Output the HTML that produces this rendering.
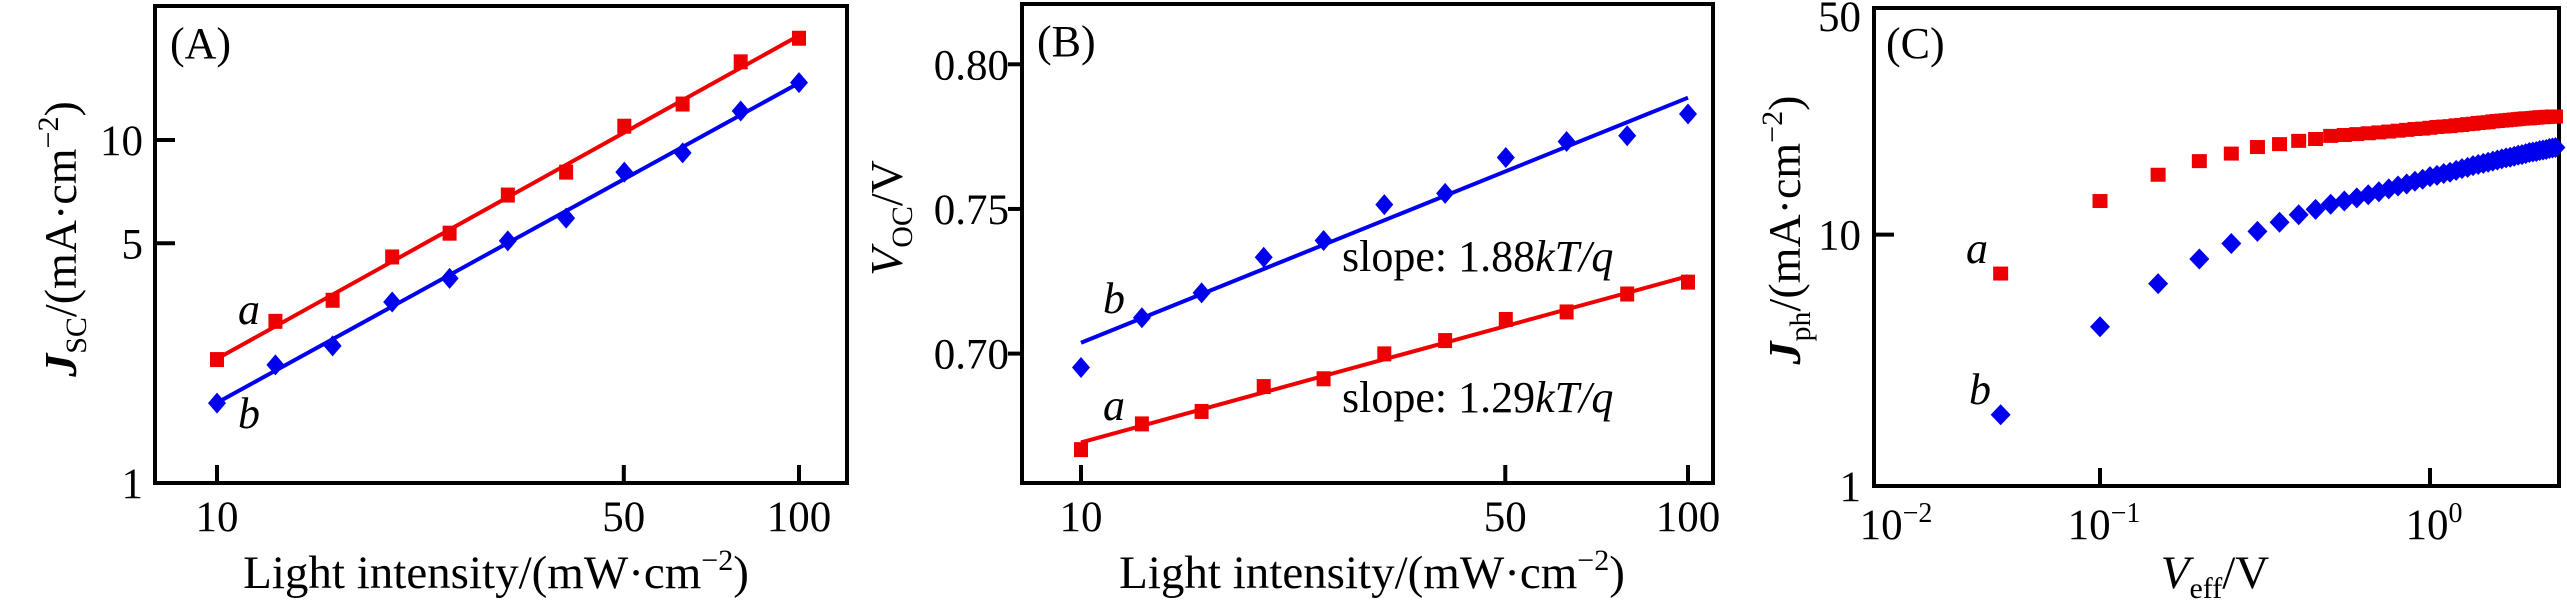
<!DOCTYPE html>
<html><head><meta charset="utf-8">
<style>
html,body{margin:0;padding:0;background:#fff;}
svg{display:block;font-family:"Liberation Serif",serif;}
</style></head>
<body>
<div style="position:relative;width:2567px;height:600px;">
<svg id="fig" style="position:absolute;left:0;top:0;" width="2567" height="600" viewBox="0 0 2567 600" xmlns="http://www.w3.org/2000/svg">
<rect x="0" y="0" width="2567" height="600" fill="#fff"/>
<g id="gA"></g>
<g id="gB"></g>
<g id="gC"></g>
</svg>
<svg style="position:absolute;left:0;top:0;" width="2567" height="600" viewBox="0 0 2567 600">
  <text x="170" y="58" font-size="44">(A)</text>
  <text x="1037" y="56" font-size="44">(B)</text>
  <text x="1886" y="58" font-size="44">(C)</text>

  <text x="238" y="324" font-size="44" font-style="italic">a</text>
  <text x="238" y="428" font-size="44" font-style="italic">b</text>
  <text x="1103" y="313" font-size="44" font-style="italic">b</text>
  <text x="1103" y="420" font-size="44" font-style="italic">a</text>
  <text x="1966" y="263" font-size="44" font-style="italic">a</text>
  <text x="1969" y="404" font-size="44" font-style="italic">b</text>

  <text x="1342" y="271" font-size="44">slope: 1.88<tspan font-style="italic">kT/q</tspan></text>
  <text x="1342" y="412" font-size="44">slope: 1.29<tspan font-style="italic">kT/q</tspan></text>

  <text x="496" y="588" font-size="47" text-anchor="middle">Light intensity/(mW·cm<tspan font-size="30" dy="-18">−2</tspan><tspan dy="18">)</tspan></text>
  <text x="1372" y="588" font-size="47" text-anchor="middle">Light intensity/(mW·cm<tspan font-size="30" dy="-18">−2</tspan><tspan dy="18">)</tspan></text>
  <text x="2215" y="588" font-size="47" text-anchor="middle"><tspan font-style="italic">V</tspan><tspan font-size="30" dy="10">eff</tspan><tspan dy="-10">/V</tspan></text>

  <text transform="translate(76,239) rotate(-90)" font-size="46" text-anchor="middle"><tspan font-style="italic" font-weight="bold">J</tspan><tspan font-size="30" dy="10">SC</tspan><tspan dy="-10">/(mA·cm</tspan><tspan font-size="30" dy="-18">−2</tspan><tspan dy="18">)</tspan></text>
  <text transform="translate(902,218) rotate(-90)" font-size="46" text-anchor="middle"><tspan font-style="italic">V</tspan><tspan font-size="30" dy="10">OC</tspan><tspan dy="-10">/V</tspan></text>
  <text transform="translate(1800,230) rotate(-90)" font-size="46" text-anchor="middle"><tspan font-style="italic" font-weight="bold">J</tspan><tspan font-size="30" dy="10">ph</tspan><tspan dy="-10">/(mA·cm</tspan><tspan font-size="30" dy="-18">−2</tspan><tspan dy="18">)</tspan></text>
</svg>
</div>
<script>
// ---- Panel A data ----
const intensityA = [10, 12.6, 15.8, 20, 25.1, 31.6, 39.8, 50.1, 63.1, 79.4, 100];
const jscA = [2.29, 2.96, 3.41, 4.56, 5.35, 6.91, 8.06, 10.97, 12.73, 16.9, 19.8];
const jscB = [1.71, 2.21, 2.51, 3.37, 3.95, 5.08, 5.92, 8.06, 9.17, 12.15, 14.7];
const xTicksA = [10, 50, 100];
const yTicksA = [1, 5, 10];
// ---- Panel B data ----
const intensityB = [10, 12.6, 15.8, 20, 25.1, 31.6, 39.8, 50.1, 63.1, 79.4, 100];
const vocA = [0.6668, 0.6757, 0.680, 0.6886, 0.6913, 0.6999, 0.7045, 0.7118, 0.7144, 0.7206, 0.7247];
const vocB = [0.6952, 0.7124, 0.7210, 0.7333, 0.7391, 0.7515, 0.7554, 0.7678, 0.7733, 0.7753, 0.7828];
const xTicksB = [10, 50, 100];
const yTicksB = [0.70, 0.75, 0.80];
const yTickLabelsB = ["0.70", "0.75", "0.80"];
// ---- Panel C data ----
const veff = [0.05,0.1,0.15,0.2,0.25,0.3,0.35,0.4,0.45,0.5,0.55,0.6,0.65,0.7,0.75,0.8,0.85,0.9,0.95,1.0,1.05,1.1,1.15,1.2,1.25,1.3,1.35,1.4,1.45,1.5,1.55,1.6,1.65,1.7,1.75,1.8,1.85,1.9,1.95,2.0,2.05,2.1,2.15,2.2,2.25,2.3,2.35,2.4];
const jphA = [7.0,13.6,17.3,19.6,21.0,22.3,22.9,23.6,24.0,24.7,24.9,25.1,25.3,25.5,25.7,25.9,26.1,26.3,26.4,26.6,26.8,26.9,27.0,27.2,27.3,27.5,27.6,27.8,27.9,28.0,28.2,28.3,28.4,28.5,28.6,28.7,28.8,28.9,29.0,29.0,29.1,29.2,29.3,29.3,29.4,29.4,29.5,29.5];
const jphB = [1.92,4.3,6.38,8.0,9.22,10.3,11.2,12.0,12.6,13.2,13.6,14.0,14.4,14.8,15.2,15.6,15.9,16.3,16.6,17.0,17.2,17.5,17.7,18.0,18.3,18.5,18.8,19.0,19.2,19.4,19.6,19.8,20.0,20.2,20.3,20.5,20.7,20.8,21.0,21.2,21.3,21.4,21.6,21.7,21.8,22.0,22.1,22.2];
const xTicksC = [0.1, 1];
const xTickExpC = ["−1", "0"];
const yTicksC = [1, 10];

const NS = "http://www.w3.org/2000/svg";
function mk(parent, tag, attrs, text) {
  const e = document.createElementNS(NS, tag);
  for (const k in attrs) e.setAttribute(k, attrs[k]);
  if (text !== undefined) e.textContent = text;
  parent.appendChild(e);
  return e;
}
function square(g, x, y, w, h, color) {
  const e = mk(g, "rect", {x: x - w/2, y: y - h/2, width: w, height: h, fill: color});
  
  
}
function diamond(g, x, y, w, h, color) {
  const e = mk(g, "polygon", {points: `${x},${y-h/2} ${x+w/2},${y} ${x},${y+h/2} ${x-w/2},${y}`, fill: color});
  
  
}
function frame(g, x0, y0, x1, y1) {
  const e = mk(g, "rect", {x: x0, y: y0, width: x1 - x0, height: y1 - y0, fill: "none", stroke: "#000", "stroke-width": 4});
  
  
}
function fitLog(xs, ys, logY) {
  const X = xs.map(Math.log10), Y = ys.map(v => logY ? Math.log10(v) : v);
  const n = X.length, mx = X.reduce((a,b)=>a+b)/n, my = Y.reduce((a,b)=>a+b)/n;
  let sxy = 0, sxx = 0;
  for (let i = 0; i < n; i++) { sxy += (X[i]-mx)*(Y[i]-my); sxx += (X[i]-mx)**2; }
  const m = sxy / sxx, b = my - m*mx;
  return x => { const v = m*Math.log10(x) + b; return logY ? Math.pow(10, v) : v; };
}
const RED = "#ee0000", BLUE = "#0000ee";
const FS = 43;

// ===== Panel A =====
(function(){
  const g = document.getElementById("gA");
  const L = 155, R = 847, T = 6, B = 483;
  const xA = v => 217 + 582 * Math.log10(v / 10);
  const yA = v => 483 - 343 * Math.log10(v);
  frame(g, L, T, R, B);
  xTicksA.forEach(t => {
    const l = mk(g, "line", {x1: xA(t), x2: xA(t), y1: B, y2: B - 18, stroke: "#000", "stroke-width": 4});
    
    
    const tx = mk(g, "text", {x: xA(t), y: 531, "font-size": FS, "text-anchor": "middle"}, String(t));
    
    
  });
  yTicksA.forEach(t => {
    if (t !== 1) {
      const l = mk(g, "line", {x1: L, x2: L + 20, y1: yA(t), y2: yA(t), stroke: "#000", "stroke-width": 4});
      
      
    }
    const tx = mk(g, "text", {x: 143, y: yA(t) + 15, "font-size": FS, "text-anchor": "end"}, String(t));
    
    
  });
  const fa = fitLog(intensityA, jscA, true), fb = fitLog(intensityA, jscB, true);
  [[fa, RED, 'fit-line-a'], [fb, BLUE, 'fit-line-b']].forEach(([f, c, n]) => {
    const l = mk(g, "line", {x1: xA(10), y1: yA(f(10)), x2: xA(100), y2: yA(f(100)), stroke: c, "stroke-width": 4});
    
    
  });
  intensityA.forEach((x, i) => square(g, xA(x), yA(jscA[i]), 14, 15, RED));
  intensityA.forEach((x, i) => diamond(g, xA(x), yA(jscB[i]), 18, 21, BLUE));
})();

// ===== Panel B =====
(function(){
  const g = document.getElementById("gB");
  const L = 1022, R = 1713, T = 4, B = 483;
  const xB = v => 1081 + 607 * Math.log10(v / 10);
  const yB = v => 353.6 - 2893 * (v - 0.70);
  frame(g, L, T, R, B);
  xTicksB.forEach(t => {
    const l = mk(g, "line", {x1: xB(t), x2: xB(t), y1: B, y2: B - 18, stroke: "#000", "stroke-width": 4});
    
    
    const tx = mk(g, "text", {x: xB(t), y: 531, "font-size": FS, "text-anchor": "middle"}, String(t));
    
    
  });
  yTicksB.forEach((t, i) => {
    const l = mk(g, "line", {x1: L, x2: L - 14, y1: yB(t), y2: yB(t), stroke: "#000", "stroke-width": 4});
    
    
    const tx = mk(g, "text", {x: 1009, y: yB(t) + 15, "font-size": FS, "text-anchor": "end"}, yTickLabelsB[i]);
    
    
  });
  const fa = fitLog(intensityB, vocA, false), fb = fitLog(intensityB, vocB, false);
  [[fa, RED, 'fit-line-a'], [fb, BLUE, 'fit-line-b']].forEach(([f, c, n]) => {
    const l = mk(g, "line", {x1: xB(10), y1: yB(f(10)), x2: xB(100), y2: yB(f(100)), stroke: c, "stroke-width": 4});
    
    
  });
  intensityB.forEach((x, i) => square(g, xB(x), yB(vocA[i]), 14, 15, RED));
  intensityB.forEach((x, i) => diamond(g, xB(x), yB(vocB[i]), 18, 21, BLUE));
})();

// ===== Panel C =====
(function(){
  const g = document.getElementById("gC");
  const L = 1874, R = 2559, T = 8, B = 486;
  const xC = v => 2430 + 330 * Math.log10(v);
  const yC = v => 486 - 251.4 * Math.log10(v);
  frame(g, L, T, R, B);
  xTicksC.forEach((t, i) => {
    const l = mk(g, "line", {x1: xC(t), x2: xC(t), y1: B, y2: B - 18, stroke: "#000", "stroke-width": 4});
    
    
    const tx = mk(g, "text", {x: xC(t) + 4, y: 539, "font-size": FS, "text-anchor": "middle"});
    
    
    mk(tx, "tspan", {}, "10");
    mk(tx, "tspan", {"font-size": 28, dy: -17}, xTickExpC[i]);
  });
  const tl = mk(g, "text", {x: 1896, y: 539, "font-size": FS, "text-anchor": "middle"});
  
  
  mk(tl, "tspan", {}, "10");
  mk(tl, "tspan", {"font-size": 28, dy: -17}, "−2");
  yTicksC.forEach(t => {
    if (t !== 1) {
      const l = mk(g, "line", {x1: L, x2: L + 20, y1: yC(t), y2: yC(t), stroke: "#000", "stroke-width": 4});
      
      
    }
    const tx = mk(g, "text", {x: 1861, y: yC(t) + 15, "font-size": FS, "text-anchor": "end"}, String(t));
    
    
  });
  const t50 = mk(g, "text", {x: 1861, y: 31, "font-size": FS, "text-anchor": "end"}, "50");
  
  
  veff.forEach((x, i) => square(g, xC(x), yC(jphA[i]), 15, 14, RED));
  veff.forEach((x, i) => diamond(g, xC(x), yC(jphB[i]), 20, 21, BLUE));
})();
</script>
</body></html>
